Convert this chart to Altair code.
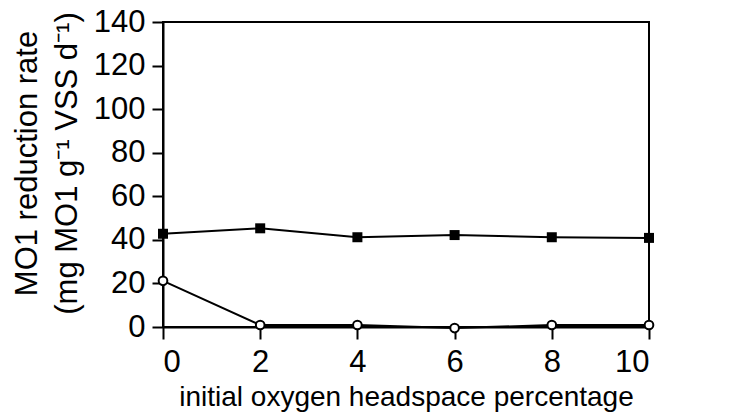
import altair as alt
import pandas as pd

# initial oxygen headspace (%)
oxygen = [0, 2, 4, 6, 8, 10]
# MO1 reduction rate, filled squares
rate_squares = [42.8, 45.3, 41.2, 42.2, 41.2, 40.9]
# MO1 reduction rate, open circles
rate_circles = [21.2, 0.9, 0.9, -0.5, 0.9, 0.9]

x_ticks = [0, 2, 4, 6, 8, 10]
y_ticks = [0, 20, 40, 60, 80, 100, 120, 140]

sq = pd.DataFrame({"oxygen": oxygen, "rate": rate_squares})
ci = pd.DataFrame({"oxygen": oxygen, "rate": rate_circles})

x_enc = alt.X(
    "oxygen:Q",
    scale=alt.Scale(domain=[0, 10], nice=False, zero=False),
    axis=alt.Axis(
        values=x_ticks,
        title="initial oxygen headspace percentage",
        tickSize=12,
        labelPadding=8,
        titlePadding=6,
        titleFontSize=28,
        labelFontSize=31,
    ),
)
y_enc = alt.Y(
    "rate:Q",
    scale=alt.Scale(domain=[0, 140], nice=False),
    axis=alt.Axis(
        values=y_ticks,
        title=["MO1 reduction rate", "(mg MO1 g⁻¹ VSS d⁻¹)"],
        tickSize=11,
        labelPadding=7,
        titleFontSize=31,
        titleLineHeight=40,
        titlePadding=10,
        titleY=141,
        labelFontSize=31,
    ),
)

line_sq = alt.Chart(sq).mark_line(color="black", strokeWidth=2).encode(x=x_enc, y=y_enc)
pts_sq = alt.Chart(sq).mark_point(
    shape="square", filled=True, color="black", size=100, opacity=1
).encode(x="oxygen:Q", y="rate:Q")

line_ci = alt.Chart(ci).mark_line(color="black", strokeWidth=2).encode(x="oxygen:Q", y="rate:Q")
pts_ci = alt.Chart(ci).mark_point(
    shape="circle", filled=True, fill="white", stroke="black", strokeWidth=2, size=75, opacity=1
).encode(x="oxygen:Q", y="rate:Q")

chart = (
    alt.layer(line_sq, line_ci, pts_sq, pts_ci)
    .properties(
        width=486,
        height=305,
        autosize=alt.AutoSizeParams(type="none"),
        padding={"left": 163, "top": 22, "right": 84, "bottom": 88},
        background="white",
    )
    .configure_view(stroke="black", strokeWidth=2)
    .configure_axis(
        grid=False,
        domainColor="black",
        domainWidth=2,
        tickColor="black",
        tickWidth=2,
        labelColor="black",
        titleColor="black",
        labelFont="Liberation Sans",
        titleFont="Liberation Sans",
        titleFontWeight="normal",
    )
)

chart.save("out.html", embed_options={"renderer": "svg", "actions": False})
